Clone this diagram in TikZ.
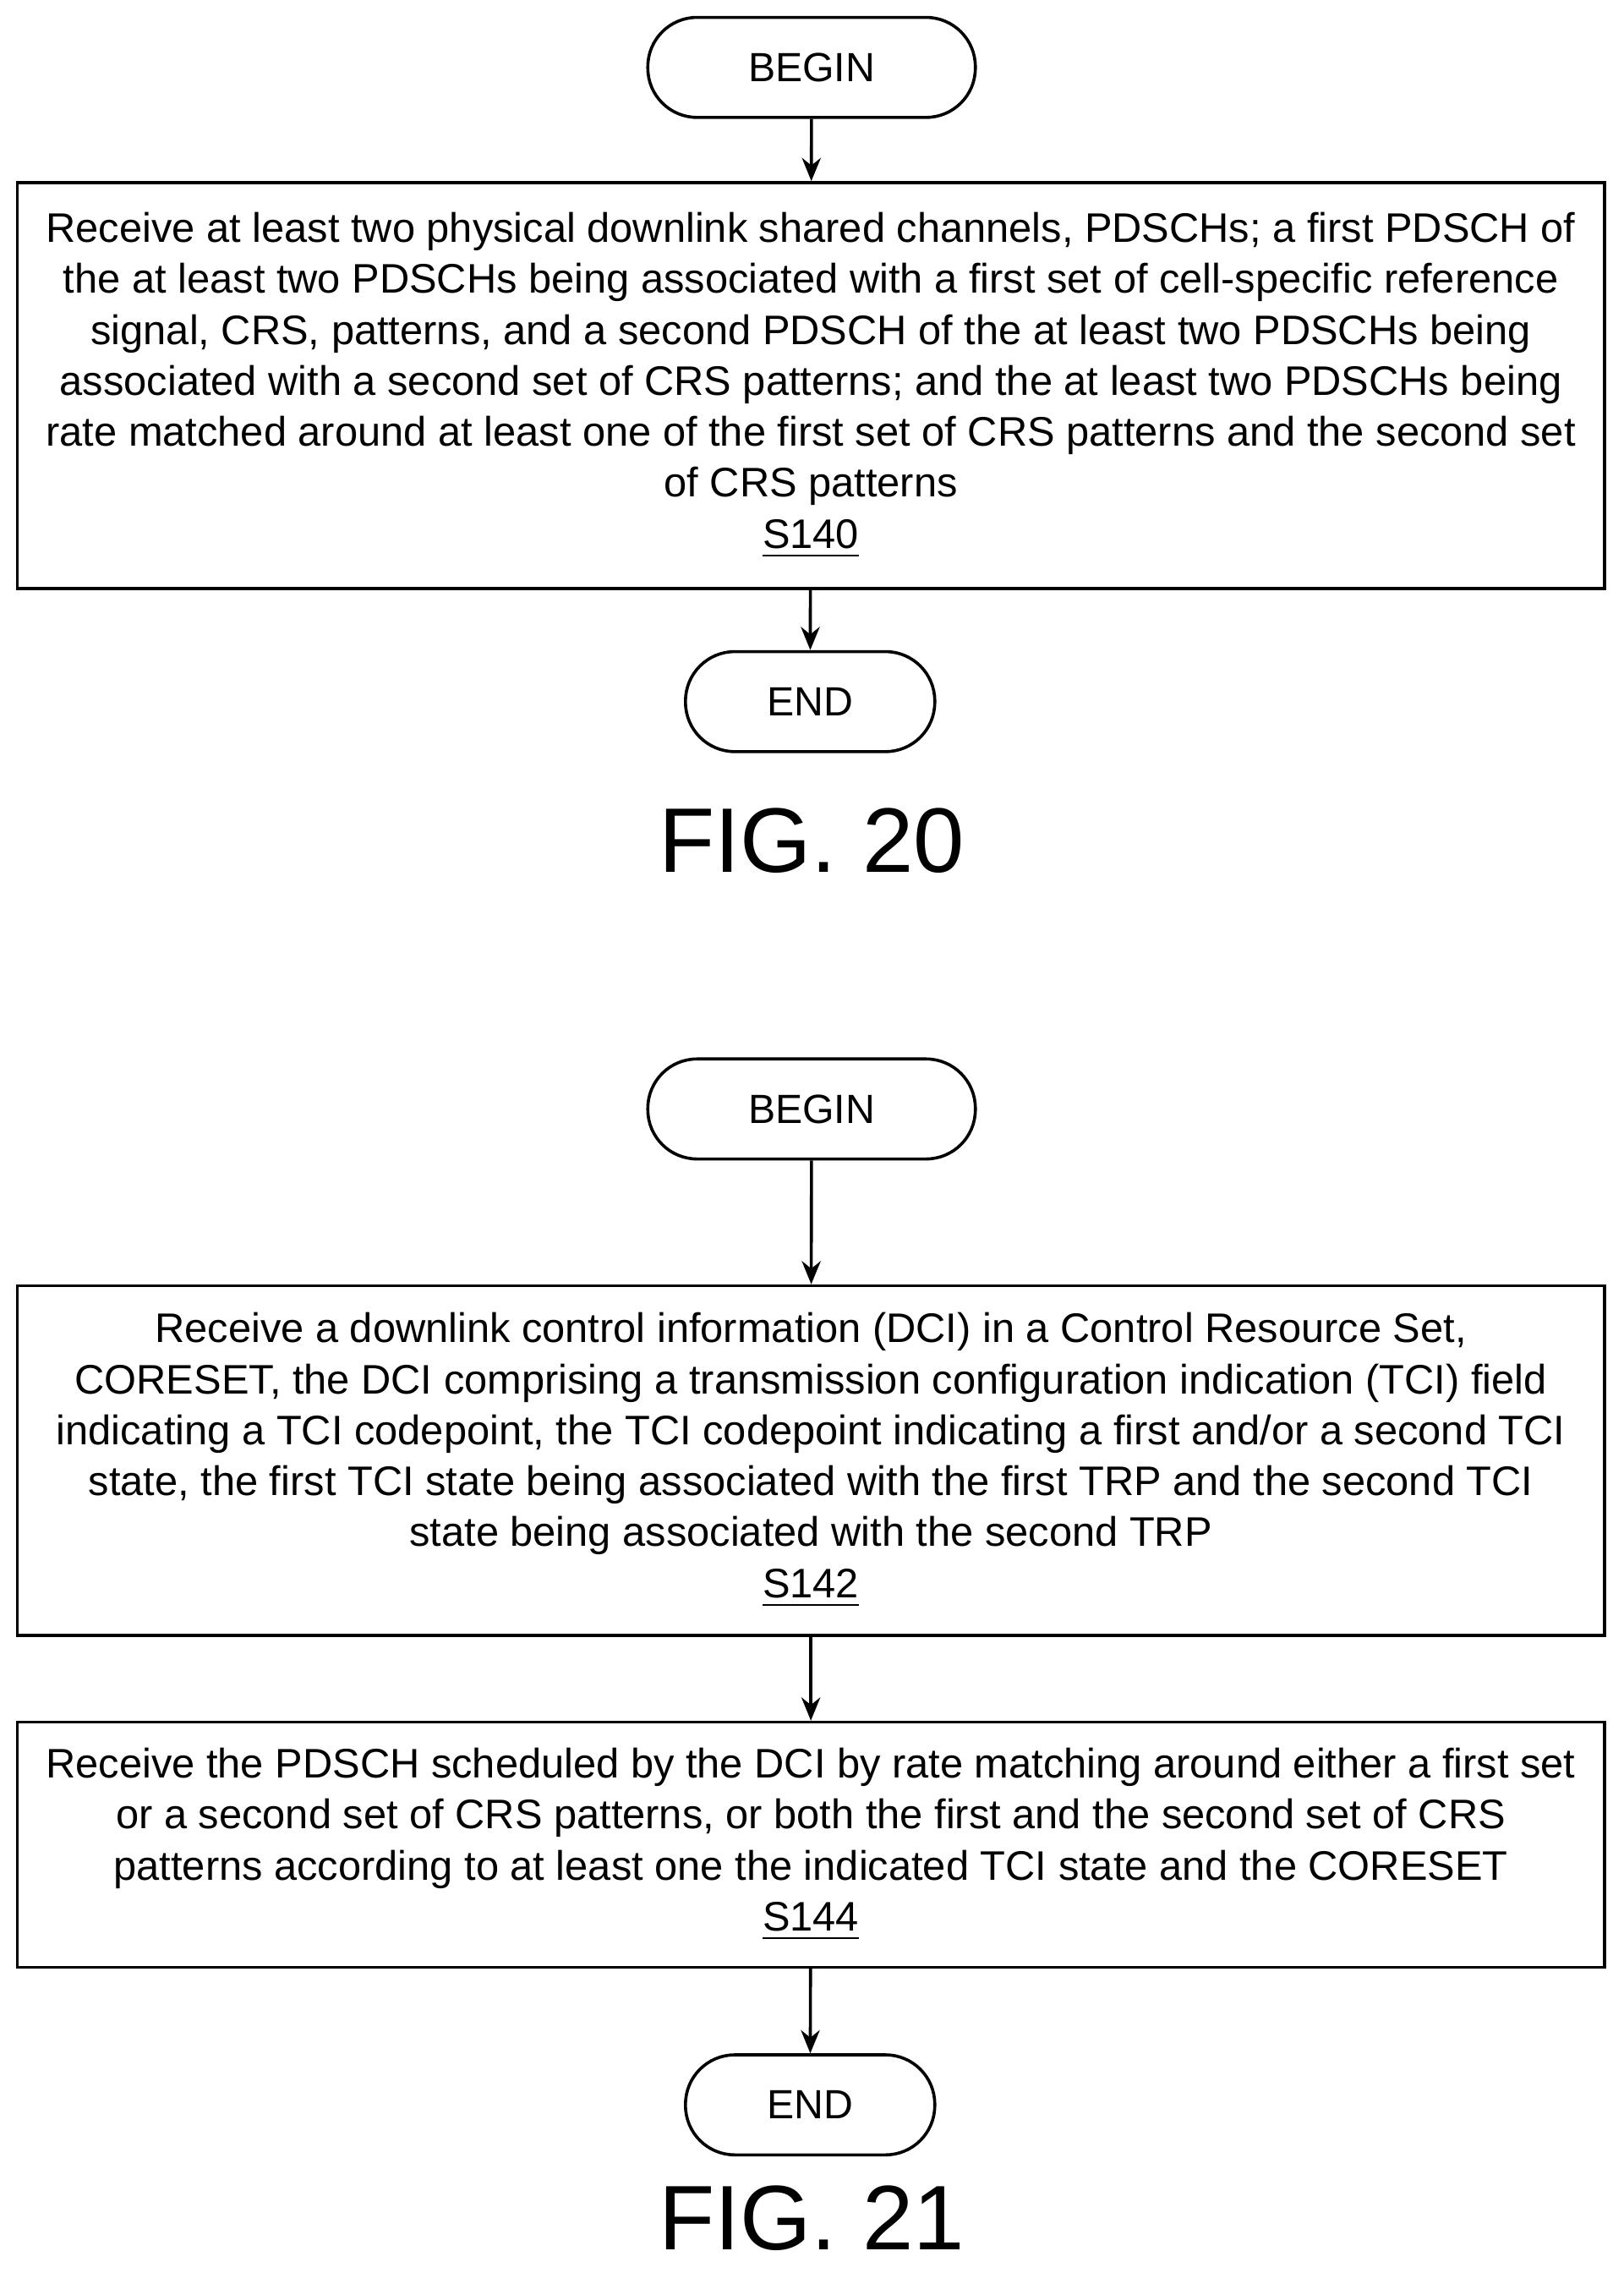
\documentclass[tikz,border=0pt]{standalone}
\usepackage{fontspec}
\setmainfont{Liberation Sans}
\usetikzlibrary{arrows.meta}
\tikzset{
  term/.style={draw,rounded corners=0.34cm,minimum width=2.26cm,minimum height=0.69cm,font=\fontsize{8}{10}\selectfont},
  proc/.style={draw,minimum width=10.95cm,align=center,inner sep=0pt,font=\fontsize{8.1}{10}\selectfont},
  figlbl/.style={font=\fontsize{18}{20}\selectfont},
  flow/.style={-{Stealth[length=0.16cm,width=0.13cm]}},
}
\begin{document}
\begin{tikzpicture}[line width=0.6pt]
  \useasboundingbox (0,0) rectangle (11.2,-15.68);
  % FIG. 20
  \node[term] (begin1) at (5.6,-0.465) {BEGIN};
  \node[proc,minimum height=2.8cm] (s140) at (5.595,-2.66) {Receive at least two physical downlink shared channels, PDSCHs; a first PDSCH of\\
    the at least two PDSCHs being associated with a first set of cell-specific reference\\
    signal, CRS, patterns, and a second PDSCH of the at least two PDSCHs being\\
    associated with a second set of CRS patterns; and the at least two PDSCHs being\\
    rate matched around at least one of the first set of CRS patterns and the second set\\
    of CRS patterns\\ \underline{S140}};
  \node[term,minimum width=1.72cm] (end1) at (5.59,-4.84) {END};
  \node[figlbl] (fig20) at (5.6,-5.8) {FIG. 20};
  \draw[flow] (begin1) -- (s140);
  \draw[flow] (s140) -- (end1);
  % FIG. 21
  \node[term] (begin2) at (5.6,-7.65) {BEGIN};
  \node[proc,minimum height=2.41cm] (s142) at (5.595,-10.075) {Receive a downlink control information (DCI) in a Control Resource Set,\\
    CORESET, the DCI comprising a transmission configuration indication (TCI) field\\
    indicating a TCI codepoint, the TCI codepoint indicating a first and/or a second TCI\\
    state, the first TCI state being associated with the first TRP and the second TCI\\
    state being associated with the second TRP\\ \underline{S142}};
  \node[proc,minimum height=1.69cm] (s144) at (5.595,-12.725) {Receive the PDSCH scheduled by the DCI by rate matching around either a first set\\
    or a second set of CRS patterns, or both the first and the second set of CRS\\
    patterns according to at least one the indicated TCI state and the CORESET\\ \underline{S144}};
  \node[term,minimum width=1.72cm] (end2) at (5.59,-14.52) {END};
  \node[figlbl] (fig21) at (5.6,-15.3) {FIG. 21};
  \draw[flow] (begin2) -- (s142);
  \draw[flow] (s142) -- (s144);
  \draw[flow] (s144) -- (end2);
\end{tikzpicture}
\end{document}
